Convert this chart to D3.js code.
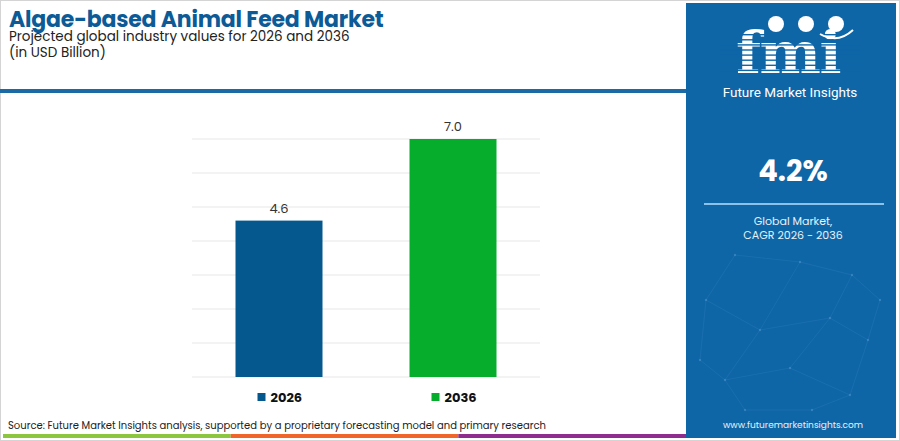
<!DOCTYPE html>
<html>
<head>
<meta charset="utf-8">
<script src="https://cdn.jsdelivr.net/npm/d3@7"></script>
<style>
  body { margin: 0; background: #fff; }
  svg { display: block; font-family: Poppins, "Open Sans", sans-serif; }
</style>
</head>
<body>
<svg id="chart" width="900" height="441"></svg>
<script>
// data
const years = ['2026', '2036']
const values = [4.6, 7.0]
const barColors = ['#04588e', '#06ac2b']
const gridTicks = [0, 1, 2, 3, 4, 5, 6, 7]
const cagr = '4.2%'
const footerColors = ['#8cc63f', '#f0652a', '#8e2d8e']

const width = 900
const height = 441
const svg = d3.select('#chart')

// frame
svg.append('rect')
  .attr('x', 0.5).attr('y', 0.5)
  .attr('width', width - 1).attr('height', height - 1)
  .attr('fill', '#fff')
  .attr('stroke', '#d4d4d4')

// header
svg.append('text')
  .attr('x', 9).attr('y', 27)
  .attr('font-size', 22).attr('font-weight', 'bold')
  .attr('fill', '#0d5b96')
  .attr('letter-spacing', -0.2)
  .text('Algae-based Animal Feed Market')

svg.append('text')
  .attr('x', 9).attr('y', 41)
  .attr('font-size', 13.5).attr('fill', '#222')
  .text('Projected global industry values for 2026 and 2036')

svg.append('text')
  .attr('x', 9).attr('y', 57)
  .attr('font-size', 13.5).attr('fill', '#222')
  .text('(in USD Billion)')

svg.append('rect')
  .attr('x', 0).attr('y', 89)
  .attr('width', 686).attr('height', 4)
  .attr('fill', '#1b6aa5')

// chart
const x = d3.scaleBand()
  .domain(years)
  .range([192, 540])
  .paddingInner(0.5)
  .paddingOuter(0.25)

const y = d3.scaleLinear()
  .domain([0, 7])
  .range([377, 139])

svg.append('g')
  .selectAll('line')
  .data(gridTicks)
  .join('line')
  .attr('x1', 192).attr('x2', 540)
  .attr('y1', (d) => y(d)).attr('y2', (d) => y(d))
  .attr('stroke', '#efefef')
  .attr('stroke-width', 1.5)

svg.append('g')
  .selectAll('rect')
  .data(values)
  .join('rect')
  .attr('x', (d, i) => x(years[i]))
  .attr('y', (d) => y(d))
  .attr('width', x.bandwidth())
  .attr('height', (d) => y(0) - y(d))
  .attr('fill', (d, i) => barColors[i])

svg.append('g')
  .selectAll('text')
  .data(values)
  .join('text')
  .attr('x', (d, i) => x(years[i]) + x.bandwidth() / 2)
  .attr('y', (d) => y(d) - 8)
  .attr('text-anchor', 'middle')
  .attr('font-size', 13)
  .attr('fill', '#333')
  .text((d) => d.toFixed(1))

// legend
const legend = svg.append('g')
  .selectAll('g')
  .data(years)
  .join('g')
  .attr('transform', (d) => `translate(${x(d) + 22},393)`)

legend.append('rect')
  .attr('width', 8).attr('height', 8)
  .attr('fill', (d, i) => barColors[i])

legend.append('text')
  .attr('x', 13).attr('y', 9)
  .attr('font-size', 13).attr('font-weight', 'bold')
  .attr('fill', '#111')
  .text((d) => d)

// footer
svg.append('text')
  .attr('x', 8).attr('y', 429)
  .attr('font-size', 10).attr('fill', '#222')
  .text('Source: Future Market Insights analysis, supported by a proprietary forecasting model and primary research')

const footerX = d3.scaleBand()
  .domain(d3.range(footerColors.length))
  .range([3, 686])

svg.append('g')
  .selectAll('rect')
  .data(footerColors)
  .join('rect')
  .attr('x', (d, i) => footerX(i))
  .attr('y', 434)
  .attr('width', footerX.bandwidth())
  .attr('height', 4)
  .attr('fill', (d) => d)

// side panel
const panel = svg.append('g')
panel.append('rect')
  .attr('x', 686).attr('y', 3)
  .attr('width', 210).attr('height', 435)
  .attr('fill', '#0e66a7')

// faint network pattern
const netPts = [
  [735, 255], [800, 262], [852, 275], [706, 300], [760, 330], [830, 318],
  [868, 340], [725, 380], [790, 368], [850, 395], [745, 410], [880, 300],
  [812, 410], [700, 360]
]
const netLinks = [
  [0, 1], [1, 2], [0, 3], [3, 4], [4, 1], [4, 5], [5, 2], [5, 6], [6, 11],
  [4, 7], [7, 8], [8, 5], [8, 9], [9, 6], [7, 10], [10, 12], [12, 9], [3, 13],
  [13, 7], [2, 11]
]
panel.append('g')
  .selectAll('line')
  .data(netLinks)
  .join('line')
  .attr('x1', (d) => netPts[d[0]][0]).attr('y1', (d) => netPts[d[0]][1])
  .attr('x2', (d) => netPts[d[1]][0]).attr('y2', (d) => netPts[d[1]][1])
  .attr('stroke', '#3d86c0')
  .attr('stroke-opacity', 0.35)
  .attr('stroke-width', 0.7)
panel.append('g')
  .selectAll('circle')
  .data(netPts)
  .join('circle')
  .attr('cx', (d) => d[0]).attr('cy', (d) => d[1])
  .attr('r', 1.2)
  .attr('fill', '#5d9fd2')
  .attr('fill-opacity', 0.45)

// logo
const logo = panel.append('g')
logo.append('text')
  .attr('x', 788).attr('y', 73)
  .attr('text-anchor', 'middle')
  .attr('font-family', '"DejaVu Serif", serif')
  .attr('font-size', 58).attr('font-weight', 'bold')
  .attr('fill', '#fff')
  .attr('letter-spacing', -1.5)
  .text('fmi')
// stripes across the letters
logo.append('g')
  .selectAll('rect')
  .data(d3.range(8))
  .join('rect')
  .attr('x', 720).attr('y', (d) => 34 + d * 5.1)
  .attr('width', 140).attr('height', 1.4)
  .attr('fill', '#0e66a7')
logo.append('g')
  .selectAll('circle')
  .data([776, 806, 836])
  .join('circle')
  .attr('cx', (d) => d).attr('cy', 24)
  .attr('r', 8)
  .attr('fill', '#fff')
logo.append('path')
  .attr('d', 'M820,34 Q838,44 853,30')
  .attr('fill', 'none')
  .attr('stroke', '#fff')
  .attr('stroke-width', 2)
logo.append('text')
  .attr('x', 790).attr('y', 97)
  .attr('text-anchor', 'middle')
  .attr('font-size', 13.5)
  .attr('fill', '#fff')
  .attr('font-family', '"Roboto", sans-serif')
  .text('Future Market Insights')

panel.append('text')
  .attr('x', 793).attr('y', 181)
  .attr('text-anchor', 'middle')
  .attr('font-size', 29).attr('font-weight', 'bold')
  .attr('fill', '#fff')
  .text(cagr)

panel.append('line')
  .attr('x1', 704).attr('x2', 884)
  .attr('y1', 204).attr('y2', 204)
  .attr('stroke', '#8cc2ea').attr('stroke-width', 2)

panel.append('text')
  .attr('x', 793).attr('y', 225)
  .attr('text-anchor', 'middle')
  .attr('font-size', 11).attr('fill', '#e8f1f8')
  .text('Global Market,')

panel.append('text')
  .attr('x', 793).attr('y', 239)
  .attr('text-anchor', 'middle')
  .attr('font-size', 11).attr('fill', '#e8f1f8')
  .text('CAGR 2026 - 2036')

panel.append('text')
  .attr('x', 793).attr('y', 428)
  .attr('text-anchor', 'middle')
  .attr('font-size', 9).attr('fill', '#e8f1f8')
  .text('www.futuremarketinsights.com')
</script>
</body>
</html>
